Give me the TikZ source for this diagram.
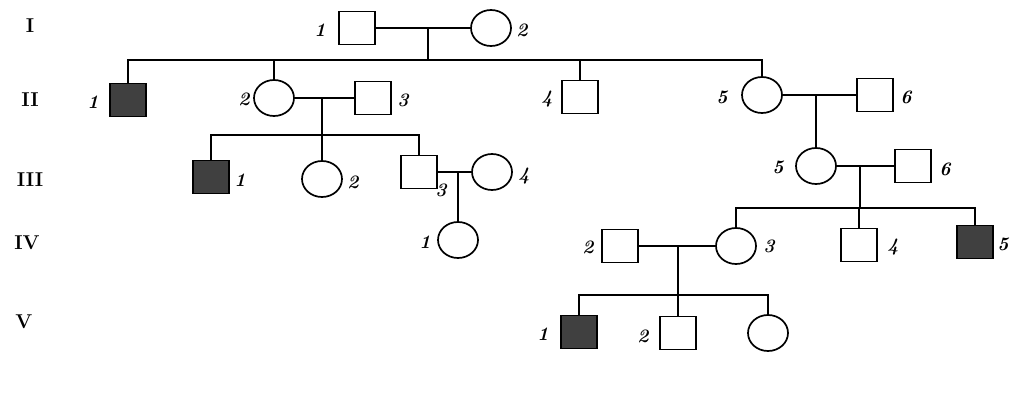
\documentclass[tikz,border=0pt]{standalone}
\usetikzlibrary{shapes.geometric}
\begin{document}
\begin{tikzpicture}[x=1pt,y=-1pt,
  line width=1.7pt,
  male/.style={draw,rectangle,minimum width=36pt,minimum height=33pt,inner sep=0pt},
  ill/.style={male,fill=black!75},
  female/.style={draw,ellipse,minimum width=40pt,minimum height=36pt,inner sep=0pt},
  lbl/.style={inner sep=0pt,font=\fontsize{19}{19}\selectfont\bfseries\itshape},
  gen/.style={inner sep=0pt,font=\fontsize{20}{20}\selectfont\bfseries}]
\useasboundingbox (0,0) rectangle (1011,397);
% generation labels
\node[gen] (gI) at (30,26) {I};
\node[gen] (gII) at (30,100) {II};
\node[gen] (gIII) at (30,180) {III};
\node[gen] (gIV) at (27,243) {IV};
\node[gen] (gV) at (24,322) {V};
% Generation I
\node[male] (I1) at (357,28) {};
\node[female] (I2) at (491,28) {};
% Generation II
\node[ill] (II1) at (128,100) {};
\node[female] (II2) at (274,98) {};
\node[male] (II3) at (373,98) {};
\node[male] (II4) at (580,97) {};
\node[female] (II5) at (762,95) {};
\node[male] (II6) at (875,95) {};
% Generation III
\node[ill] (III1) at (211,177) {};
\node[female] (III2) at (322,179) {};
\node[male] (III3) at (419,172) {};
\node[female] (III4) at (492,172) {};
\node[female] (III5) at (816,166) {};
\node[male] (III6) at (913,166) {};
% Generation IV
\node[female] (IV1) at (458,240) {};
\node[male] (IV2) at (620,246) {};
\node[female] (IV3) at (736,246) {};
\node[male] (IV4) at (859,245) {};
\node[ill] (IV5) at (975,242) {};
% Generation V
\node[ill] (V1) at (579,332) {};
\node[male] (V2) at (678,333) {};
\node[female] (V3) at (768,333) {};
% number labels
\node[lbl] (lI1) at (320,30) {1};
\node[lbl] (lI2) at (522,30) {2};
\node[lbl] (lII1) at (93,102) {1};
\node[lbl] (lII2) at (244,99) {2};
\node[lbl] (lII3) at (403,100) {3};
\node[lbl] (lII4) at (547,99) {4};
\node[lbl] (lII5) at (722,97) {5};
\node[lbl] (lII6) at (906,97) {6};
\node[lbl] (lIII1) at (240,180) {1};
\node[lbl] (lIII2) at (353,182) {2};
\node[lbl] (lIII3) at (441,190) {3};
\node[lbl] (lIII4) at (524,176) {4};
\node[lbl] (lIII5) at (778,167) {5};
\node[lbl] (lIII6) at (945,169) {6};
\node[lbl] (lIV1) at (425,242) {1};
\node[lbl] (lIV2) at (588,247) {2};
\node[lbl] (lIV3) at (769,246) {3};
\node[lbl] (lIV4) at (893,247) {4};
\node[lbl] (lIV5) at (1003,244) {5};
\node[lbl] (lV1) at (543,334) {1};
\node[lbl] (lV2) at (643,336) {2};
% coordinates for marriage and sibship lines
\coordinate (mI) at (428,28);
\coordinate (sI) at (428,60);
\coordinate (mII) at (322,98);
\coordinate (sII) at (322,135);
\coordinate (mIIb) at (816,95);
\coordinate (mIII) at (458,172);
\coordinate (mIIIb) at (860,166);
\coordinate (sIIIb) at (860,208);
\coordinate (mIV) at (678,246);
\coordinate (sIV) at (678,295);
% Generation I family
\draw (I1) -- (I2);
\draw (mI) -- (sI);
\draw (II1.north) -- (II1.north |- sI) -- (II5.north |- sI) -- (II5.north);
\draw (II2.north) -- (II2.north |- sI);
\draw (II4.north) -- (II4.north |- sI);
% II2 x II3
\draw (II2) -- (II3);
\draw (mII) -- (sII);
\draw (III1.north) -- (III1.north |- sII) -- (III3.north |- sII) -- (III3.north);
\draw (III2.north) -- (III2.north |- sII);
% II5 x II6
\draw (II5) -- (II6);
\draw (mIIb) -- (III5.north);
% III3 x III4
\draw (III3) -- (III4);
\draw (mIII) -- (IV1.north);
% III5 x III6
\draw (III5) -- (III6);
\draw (mIIIb) -- (sIIIb);
\draw (IV3.north) -- (IV3.north |- sIIIb) -- (IV5.north |- sIIIb) -- (IV5.north);
\draw (IV4.north) -- (IV4.north |- sIIIb);
% IV2 x IV3
\draw (IV2) -- (IV3);
\draw (mIV) -- (sIV);
\draw (V1.north) -- (V1.north |- sIV) -- (V3.north |- sIV) -- (V3.north);
\draw (V2.north) -- (V2.north |- sIV);
\end{tikzpicture}
\end{document}
